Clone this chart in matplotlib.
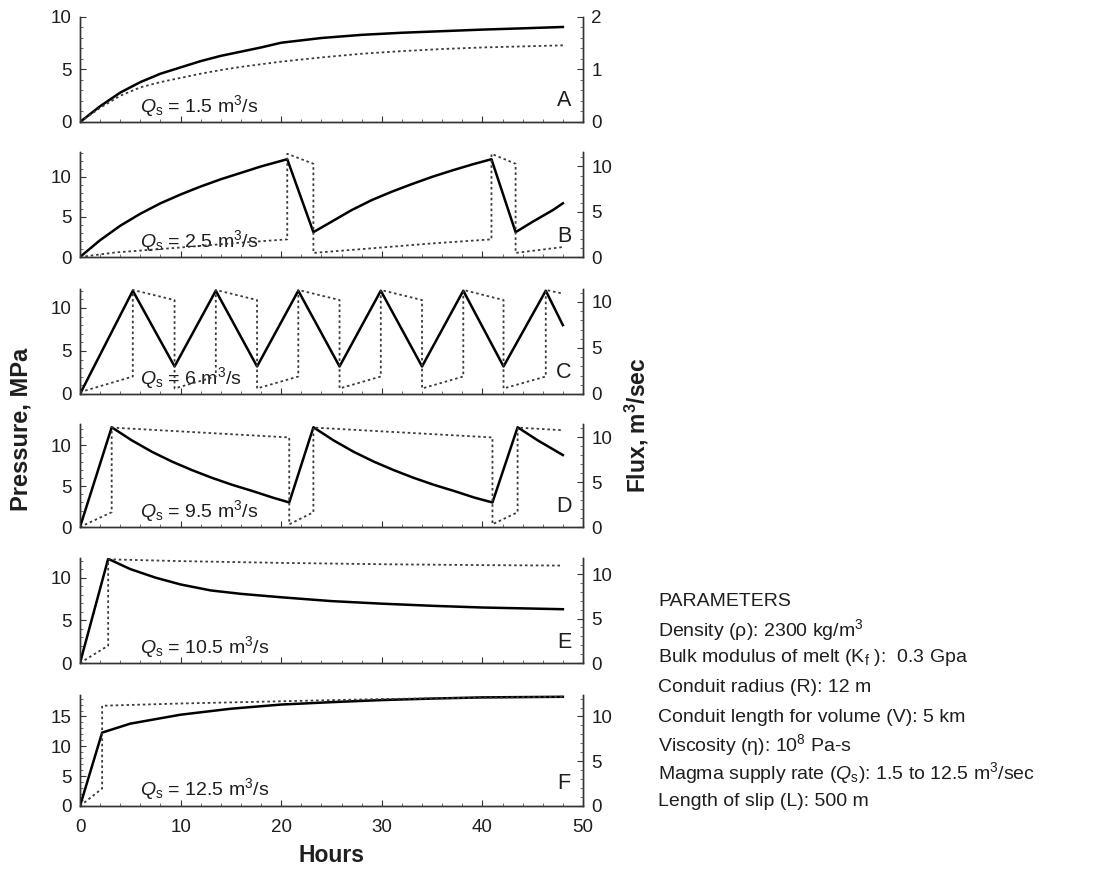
import matplotlib
matplotlib.use("Agg")
import matplotlib.pyplot as plt
from matplotlib.ticker import MultipleLocator

plt.rcParams['font.family'] = ['Liberation Sans', 'DejaVu Sans']
plt.rcParams['mathtext.fontset'] = 'custom'
plt.rcParams['mathtext.rm'] = 'Liberation Sans'
plt.rcParams['mathtext.it'] = 'Liberation Sans:italic'
plt.rcParams['mathtext.bf'] = 'Liberation Sans:bold'

# --- Panel A : Qs = 1.5 ---
hours_a = [0, 2, 4, 6, 8, 10, 12, 14, 16, 18, 20, 24, 28, 32, 36, 40, 44, 48]
press_a = [0, 1.5, 2.8, 3.8, 4.6, 5.2, 5.8, 6.3, 6.7, 7.1, 7.55, 8.0, 8.3, 8.5, 8.65, 8.8, 8.92, 9.05]
flux_a = [0, 0.27, 0.5, 0.66, 0.76, 0.84, 0.92, 0.99, 1.05, 1.1, 1.15, 1.23, 1.3, 1.35, 1.39, 1.42, 1.44, 1.46]

# --- Panel B : Qs = 2.5 ---
hours_b = [0, 2, 4, 6, 8, 10, 12, 14, 16, 18, 20.6, 23.2, 25, 27, 29, 31, 33, 35, 37, 39, 40.9,
           43.3, 45, 47, 48]
press_b = [0, 2.1, 3.9, 5.4, 6.7, 7.8, 8.8, 9.7, 10.5, 11.3, 12.2, 3.1, 4.4, 5.85, 7.1, 8.15, 9.1, 10.0,
           10.8, 11.55, 12.2, 3.1, 4.4, 5.85, 6.7]
hours_bf = [0, 3.5, 10, 15, 20.6, 20.6, 23.2, 23.2, 30, 35, 40.9, 40.9, 43.3, 43.3, 48]
flux_b = [0, 0.5, 1.05, 1.5, 1.95, 11.4, 10.3, 0.45, 1.05, 1.5, 1.95, 11.4, 10.3, 0.45, 1.1]

# --- Panel C : Qs = 6 ---
hours_c = [0, 5.25, 9.4, 13.5, 17.6, 21.7, 25.8, 29.9, 34.0, 38.1, 42.1, 46.3, 48]
press_c = [0, 12.0, 3.2, 12.0, 3.2, 12.0, 3.2, 12.0, 3.2, 12.0, 3.2, 12.0, 8.0]
hours_cf = [0, 5.25, 5.25, 9.4, 9.4, 13.5, 13.5, 17.6, 17.6, 21.7, 21.7, 25.8, 25.8, 29.9, 29.9,
            34.0, 34.0, 38.1, 38.1, 42.1, 42.1, 46.3, 46.3, 48]
flux_c = [0.2, 1.9, 11.3, 10.2, 0.6, 1.9, 11.3, 10.2, 0.6, 1.9, 11.3, 10.2, 0.6, 1.9, 11.3,
          10.2, 0.6, 1.9, 11.3, 10.2, 0.6, 1.9, 11.3, 10.9]

# --- Panel D : Qs = 9.5 ---
hours_d = [0, 3.15, 5.15, 7.15, 9.15, 11.15, 13.15, 15.15, 17.15, 19.15, 20.8,
           23.2, 25.2, 27.2, 29.2, 31.2, 33.2, 35.2, 37.2, 39.2, 41.0, 43.5, 45.5, 48]
press_d = [0, 12.2, 10.6, 9.2, 8.0, 6.95, 6.0, 5.15, 4.4, 3.6, 3.0,
           12.2, 10.6, 9.2, 8.0, 6.95, 6.0, 5.15, 4.4, 3.6, 3.0, 12.2, 10.6, 8.8]
hours_df = [0, 3.15, 3.15, 20.8, 20.8, 23.2, 23.2, 41.0, 41.0, 43.5, 43.5, 48]
flux_d = [0, 1.65, 11.1, 10.0, 0.3, 1.65, 11.1, 10.0, 0.3, 1.65, 11.1, 10.8]

# --- Panel E : Qs = 10.5 ---
hours_e = [0, 2.8, 5, 7.5, 10, 13, 16, 20, 25, 30, 35, 40, 44, 48]
press_e = [0, 12.2, 11.0, 10.0, 9.2, 8.5, 8.1, 7.7, 7.25, 6.95, 6.7, 6.5, 6.4, 6.3]
hours_ef = [0, 2.8, 2.8, 10, 20, 30, 40, 48]
flux_e = [0, 1.95, 11.65, 11.45, 11.25, 11.1, 11.0, 10.95]

# --- Panel F : Qs = 12.5 ---
hours_f = [0, 2.2, 5, 10, 15, 20, 25, 30, 35, 40, 44, 48]
press_f = [0, 12.3, 13.8, 15.3, 16.3, 17.0, 17.4, 17.75, 18.0, 18.2, 18.25, 18.3]
hours_ff = [0, 2.2, 2.2, 10, 20, 30, 40, 48]
flux_f = [0, 1.95, 11.2, 11.45, 11.7, 11.95, 12.1, 12.2]

letters = ['A', 'B', 'C', 'D', 'E', 'F']
supply = ['1.5', '2.5', '6', '9.5', '10.5', '12.5']

params = [
    "PARAMETERS",
    "Density (\u03c1): 2300 kg/m$^3$",
    "Bulk modulus of melt (K$_\\mathrm{f}$ ):  0.3 Gpa",
    "Conduit radius (R): 12 m",
    "Conduit length for volume (V): 5 km",
    "Viscosity (\u03b7): 10$^8$ Pa-s",
    "Magma supply rate ($Q_\\mathrm{s}$): 1.5 to 12.5 m$^3$/sec",
    "Length of slip (L): 500 m",
]

W, H = 1106, 873
fig = plt.figure(figsize=(W / 100, H / 100), dpi=100)

tops = [17, 152, 289, 424, 558, 695]
heights = [105, 105, 105, 103, 105, 111]
left_px, right_px = 80, 583

series = [
    (hours_a, press_a, hours_a, flux_a, 10, 2, 5, 1),
    (hours_b, press_b, hours_bf, flux_b, 13.1, 11.6, 5, 5),
    (hours_c, press_c, hours_cf, flux_c, 12.2, 11.4, 5, 5),
    (hours_d, press_d, hours_df, flux_d, 12.6, 11.5, 5, 5),
    (hours_e, press_e, hours_ef, flux_e, 12.3, 11.8, 5, 5),
    (hours_f, press_f, hours_ff, flux_f, 18.6, 12.4, 5, 5),
]

ink = '#1e1e1e'
for i, (hx, py, fx, fy, ptop, ftop, pstep, fstep) in enumerate(series):
    rect = [left_px / W, 1 - (tops[i] + heights[i]) / H,
            (right_px - left_px) / W, heights[i] / H]
    ax = fig.add_axes(rect)
    ax2 = ax.twinx()
    ax.plot(hx, py, color='black', lw=1.8, zorder=3)
    ax2.plot(fx, fy, color='#3a3a3a', lw=1.3, linestyle=(0, (1.4, 1.6)))
    ax.set_xlim(0, 50)
    ax.set_ylim(0, ptop)
    ax2.set_ylim(0, ftop)
    ax.xaxis.set_major_locator(MultipleLocator(10))
    ax.xaxis.set_minor_locator(MultipleLocator(2))
    ax.yaxis.set_major_locator(MultipleLocator(pstep))
    ax.yaxis.set_minor_locator(MultipleLocator(1))
    ax2.yaxis.set_major_locator(MultipleLocator(fstep))
    ax2.yaxis.set_minor_locator(MultipleLocator(fstep / 5))
    for a in (ax, ax2):
        a.spines['top'].set_visible(False)
        for s in a.spines.values():
            s.set_linewidth(1.0)
            s.set_color('#333333')
        a.tick_params(which='major', direction='in', length=4, width=0.8,
                      labelsize=13.5, colors='#333333', labelcolor=ink, pad=6)
        a.tick_params(which='minor', direction='in', length=2, width=0.6, colors='#555555')
    ax.tick_params(axis='x', pad=9)
    if i < 5:
        ax.tick_params(labelbottom=False)
    ax.text(0.12, 0.15, "$Q_\\mathrm{s}$ = " + supply[i] + " m$^3$/s",
            transform=ax.transAxes, fontsize=14, va='center', ha='left', color=ink)
    ax.text(0.962, 0.2, letters[i], transform=ax.transAxes, fontsize=15.5,
            va='center', ha='center', color=ink)

fig.text(332 / W, 1 - 856 / H, "Hours", fontsize=16.5, fontweight='bold',
         ha='center', va='center', color=ink)
fig.text(21 / W, 1 - 429 / H, "Pressure, MPa", fontsize=17, fontweight='bold',
         rotation=90, ha='center', va='center', color=ink)
fig.text(637 / W, 1 - 425 / H, "Flux, m$^\\mathbf{3}$/sec", fontsize=16.5, fontweight='bold',
         rotation=90, ha='center', va='center', color=ink)

param_y = [602, 630, 657, 687, 717, 745, 773, 801]
for txt, y in zip(params, param_y):
    fig.text(658 / W, 1 - y / H, txt, fontsize=14, ha='left', va='center', color=ink)

fig.savefig("out.png", dpi=100)
